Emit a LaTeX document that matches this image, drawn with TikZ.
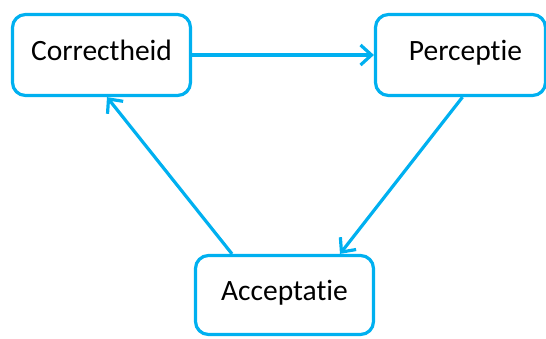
\documentclass[tikz,border=0pt]{standalone}
\usepackage{fontspec}
\setmainfont{Carlito}[Ligatures={NoCommon}]
\usetikzlibrary{arrows.meta}
\definecolor{linkblue}{HTML}{00B0F0}
\begin{document}
\begin{tikzpicture}[x=1pt,y=-1pt,
  box/.style={draw=linkblue, line width=3.2pt, rounded corners=13pt, fill=white,
    font=\fontsize{29.5}{32}\selectfont, text=black, text height=22pt, text depth=11pt,
    inner sep=0pt},
  link/.style={draw=linkblue, line width=3.2pt, -{Straight Barb[length=11pt,width=20pt,line width=3.2pt]}}]
\useasboundingbox (0,0) rectangle (546,338);
\node[box, minimum width=178pt, minimum height=81pt] (c) at (101.5,55) {Correctheid};
\node[box, minimum width=170pt, minimum height=81pt] (p) at (460.5,55) {\hspace*{10pt}Perceptie};
\node[box, minimum width=178pt, minimum height=79pt] (a) at (284.5,295) {Acceptatie};
\draw[link] (c.east) -- (p.west);
\draw[link] ([xshift=2pt]p.south) -- ([xshift=55.5pt]a.north);
\draw[link] ([xshift=-52.5pt]a.north) -- ([xshift=5.5pt]c.south);
\end{tikzpicture}
\end{document}
